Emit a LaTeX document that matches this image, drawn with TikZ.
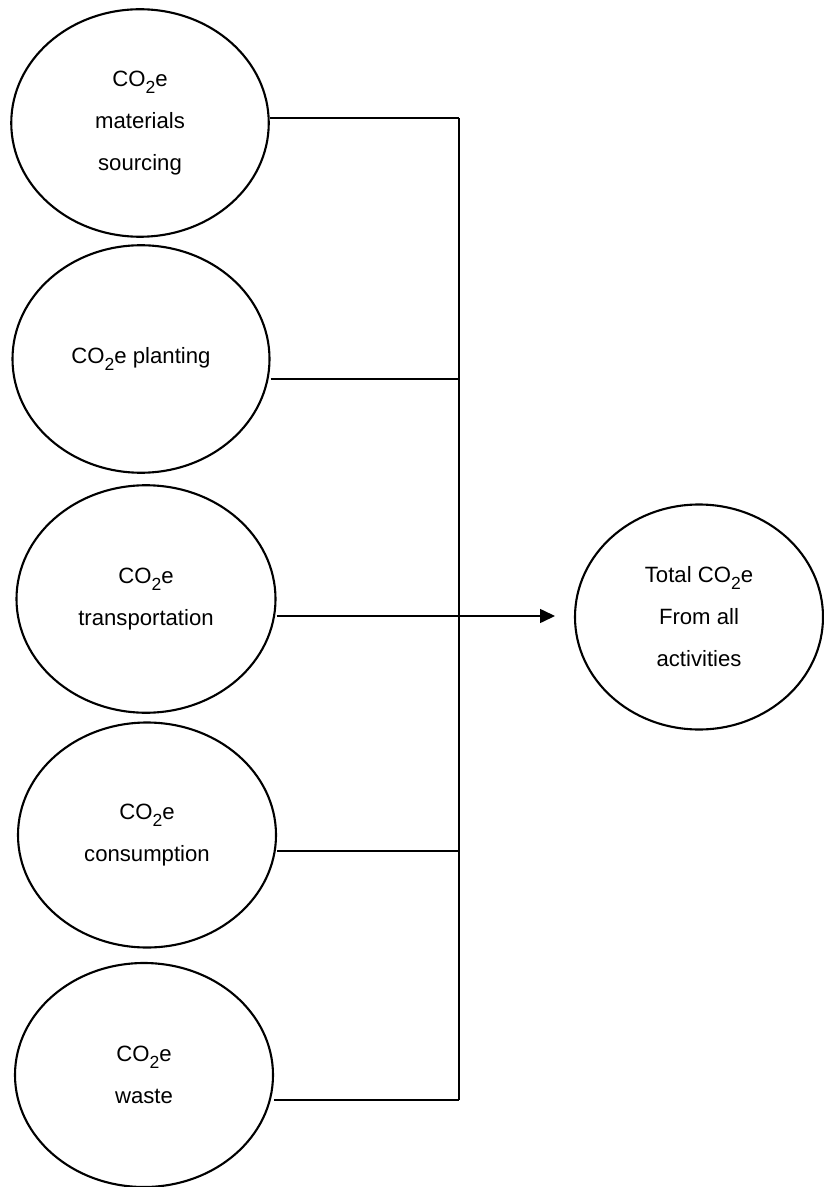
\documentclass[tikz,border=0pt]{standalone}
\usepackage{fontspec}
\setmainfont{Liberation Sans}
\usepackage{tikz}
\usetikzlibrary{shapes.geometric,arrows.meta,positioning,calc}
\newcommand{\coe}{CO\raisebox{-4pt}{\fontsize{10}{10}\selectfont 2}e}
\tikzstyle{source} = [ellipse, draw=black, line width=1.2pt, inner sep=0pt,
    minimum width=5.15cm, minimum height=4.55cm, align=center,
    font=\fontsize{12.6}{23.9}\selectfont]
\tikzstyle{line} = [line width=0.9pt]
\tikzstyle{arrow} = [line width=0.9pt, -{Triangle[length=0.3cm,width=0.28cm]}]

\begin{document}
\begin{tikzpicture}
\useasboundingbox (0,0) rectangle (16.46,-23.74);

% ── Activity ellipses ────
\node[source] (materials) at (2.80,-2.46) {\coe\\materials\\sourcing};
\node[source, minimum width=5.14cm] (planting) at (2.82,-7.18) {\coe{} planting};
\node[source, minimum width=5.18cm] (transport) at (2.92,-11.98) {\coe\\transportation};
\node[source, minimum width=5.16cm, minimum height=4.5cm] (consumption) at (2.94,-16.70) {\coe\\consumption};
\node[source, minimum width=5.16cm, minimum height=4.48cm] (waste) at (2.88,-21.50) {\coe\\waste};

% ── Total ────
\node[source, minimum width=4.96cm, minimum height=4.5cm] (total) at (13.98,-12.34) {Total \coe\\From all\\activities};

% ── Bus points ────
\coordinate (j1) at (9.18,-2.36);
\coordinate (j2) at (9.18,-7.58);
\coordinate (j3) at (9.18,-12.32);
\coordinate (j4) at (9.18,-17.02);
\coordinate (j5) at (9.18,-22.00);
\coordinate (tip) at (11.10,-12.32);

% ── Connectors ────
\draw[line] (materials.east |- j1) -- (j1);
\draw[line] (planting.east |- j2) -- (j2);
\draw[line] (consumption.east |- j4) -- (j4);
\draw[line] (waste.east |- j5) -- (j5);
\draw[line] (j1) -- (j5);
\draw[arrow] (transport.east |- j3) -- (tip);

\end{tikzpicture}
\end{document}
